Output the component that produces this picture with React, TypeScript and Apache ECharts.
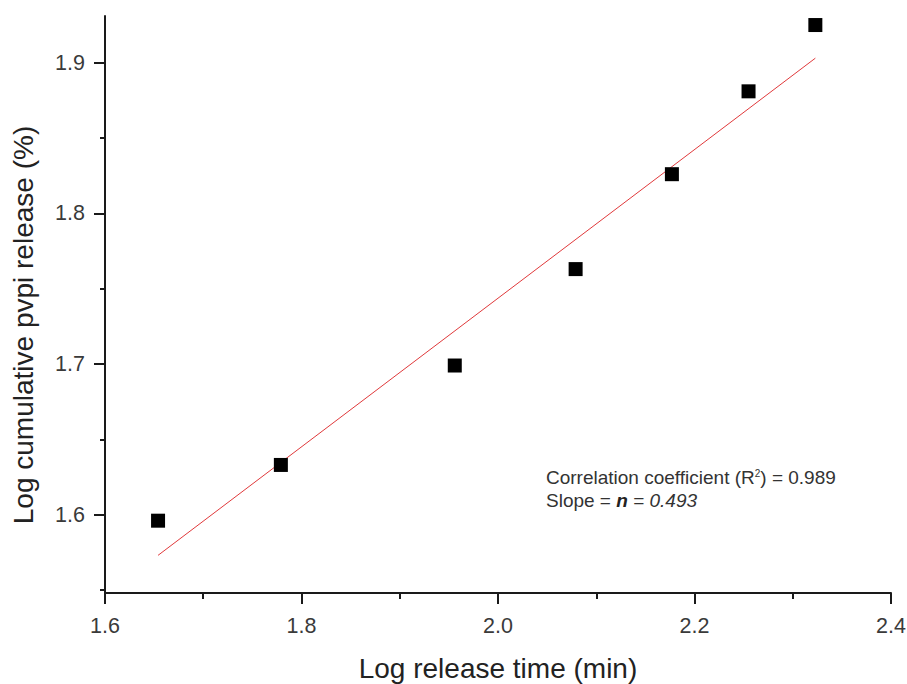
import React, { useEffect, useRef } from "react";
import * as echarts from "echarts";

const logTime = [1.654, 1.779, 1.956, 2.079, 2.177, 2.255, 2.323];
const logRelease = [1.596, 1.633, 1.699, 1.763, 1.826, 1.881, 1.925];
const fitX = [1.654, 2.323];
const fitY = [1.573, 1.903];
const xMajorTicks = [1.6, 1.8, 2.0, 2.2, 2.4];
const xMinorTicks = [1.7, 1.9, 2.1, 2.3];
const yMajorTicks = [1.6, 1.7, 1.8, 1.9];
const yMinorTicks = [1.55, 1.65, 1.75, 1.85];
const xTitle = "Log release time (min)";
const yTitle = "Log cumulative pvpi release (%)";
const r2Text = "0.989";
const slopeText = "0.493";

const FONT = "Liberation Sans, Arial, sans-serif";

export default function App() {
  const ref = useRef<HTMLDivElement>(null);
  useEffect(() => {
    document.body.style.margin = "0";
    if (!ref.current) return;
    const chart = echarts.init(ref.current, null, { renderer: "svg" });
    const axisColor = "#1a1a1a";
    const labelColor = "#3a3a3a";
    const xRange = { min: 1.6, max: 2.4 };
    const yRange = { min: 1.548, max: 1.931 };
    chart.setOption({
      animation: false,
      backgroundColor: "#fff",
      grid: { left: 105, right: 16, top: 16, bottom: 91, containLabel: false, outerBoundsMode: "none" },
      xAxis: [
        {
          type: "value",
          ...xRange,
          position: "bottom",
          splitLine: { show: false },
          axisLine: { show: true, onZero: false, lineStyle: { color: axisColor, width: 2 } },
          axisTick: { show: true, length: 11, customValues: xMajorTicks, lineStyle: { color: axisColor, width: 2 } },
          axisLabel: {
            customValues: xMajorTicks,
            margin: 22,
            fontSize: 21.5,
            fontFamily: FONT,
            color: labelColor,
            formatter: (v: number) => v.toFixed(1),
          },
          name: xTitle,
          nameLocation: "middle",
          nameGap: 61,
          nameTextStyle: { fontSize: 28, fontFamily: FONT, color: "#222" },
        },
        {
          type: "value",
          ...xRange,
          position: "bottom",
          splitLine: { show: false },
          axisLine: { show: false, onZero: false },
          axisTick: { show: true, length: 6, customValues: xMinorTicks, lineStyle: { color: axisColor, width: 2 } },
          axisLabel: { show: false },
        },
      ],
      yAxis: [
        {
          type: "value",
          ...yRange,
          position: "left",
          splitLine: { show: false },
          axisLine: { show: true, onZero: false, lineStyle: { color: axisColor, width: 2 } },
          axisTick: { show: true, length: 11, customValues: yMajorTicks, lineStyle: { color: axisColor, width: 2 } },
          axisLabel: {
            customValues: yMajorTicks,
            margin: 20,
            fontSize: 21.5,
            fontFamily: FONT,
            color: labelColor,
            formatter: (v: number) => v.toFixed(1),
          },
        },
        {
          type: "value",
          ...yRange,
          position: "left",
          splitLine: { show: false },
          axisLine: { show: false, onZero: false },
          axisTick: { show: true, length: 5, customValues: yMinorTicks, lineStyle: { color: axisColor, width: 2 } },
          axisLabel: { show: false },
        },
      ],
      series: [
        {
          type: "line",
          data: fitX.map((x, i) => [x, fitY[i]]),
          showSymbol: false,
          symbol: "none",
          lineStyle: { color: "#e0393b", width: 1 },
          z: 1,
        },
        {
          type: "scatter",
          data: logTime.map((x, i) => [x, logRelease[i]]),
          symbol: "rect",
          symbolSize: 14,
          itemStyle: { color: "#000", opacity: 1 },
          z: 2,
        },
      ],
      graphic: [
        {
          type: "text",
          x: 23,
          y: 325,
          rotation: Math.PI / 2,
          style: {
            text: yTitle,
            fill: "#222",
            font: `28px ${FONT}`,
            align: "center",
            verticalAlign: "middle",
          },
        },
        {
          type: "text",
          left: 546,
          top: 466,
          style: {
            text: `Correlation coefficient (R{sup|2}) = ${r2Text}\nSlope = {b|n}{i| = ${slopeText}}`,
            fill: "#333",
            font: `19px ${FONT}`,
            lineHeight: 23,
            rich: {
              sup: { fontSize: 10, fontFamily: FONT, fill: "#333", verticalAlign: "top", lineHeight: 23, padding: [2, 0, 0, 0] },
              b: { fontSize: 19, fontFamily: FONT, fontWeight: "bold", fontStyle: "italic", fill: "#222", lineHeight: 23 },
              i: { fontSize: 19, fontFamily: FONT, fontStyle: "italic", fill: "#333", lineHeight: 23 },
            },
          },
        },
      ],
    });
    return () => chart.dispose();
  }, []);
  return <div ref={ref} style={{ width: 907, height: 684 }} />;
}
